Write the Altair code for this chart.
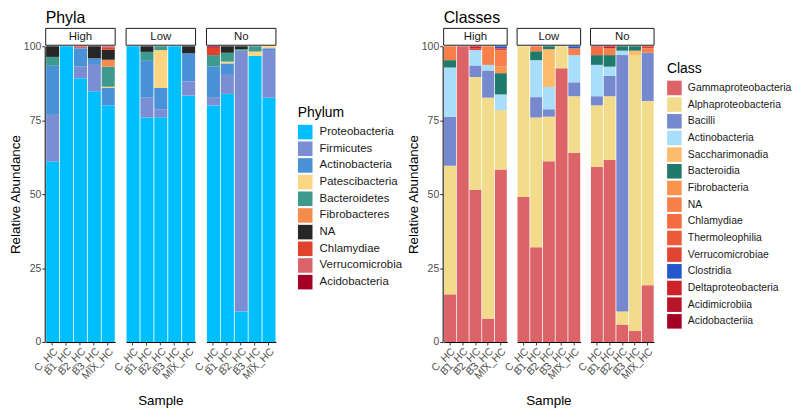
import altair as alt
import pandas as pd

FONT = "Liberation Sans"

samples = ["C_HC", "B1_HC", "B2_HC", "B3_HC", "MIX_HC"]
levels = ["High", "Low", "No"]

# ---------------- Phyla ----------------
phyla = ["Proteobacteria", "Firmicutes", "Actinobacteria", "Patescibacteria",
         "Bacteroidetes", "Fibrobacteres", "NA", "Chlamydiae",
         "Verrucomicrobia", "Acidobacteria"]
phyla_colors = ["#00BFFF", "#7B8ED3", "#4A92D8", "#FCD583", "#3E9A8C",
                "#F68B4E", "#262626", "#E0422C", "#D9646B", "#A50026"]
# order of values: High C,B1,B2,B3,MIX | Low C,B1,B2,B3,MIX | No C,B1,B2,B3,MIX
p_proteobacteria = [61.0, 100, 89.2, 84.8, 80.0, 100, 75.9, 76.0, 100, 83.3, 80.0, 83.9, 10.3, 96.7, 82.6]
p_firmicutes = [15.8, 0, 3.9, 9.2, 0, 0, 6.7, 2.7, 0, 4.8, 2.8, 6.4, 88.2, 0, 16.1]
p_actinobacteria = [16.6, 0, 6.2, 1.9, 5.9, 0, 12.7, 7.2, 0, 9.5, 10.3, 3.9, 0, 0, 0.6]
p_patescibacteria = [0, 0, 0, 0, 0.4, 0, 0, 12.8, 0, 0, 0, 0.6, 0, 1.5, 0.7]
p_bacteroidetes = [3.0, 0, 0, 0, 6.8, 0, 2.8, 1.3, 0, 0, 3.9, 3.0, 0.5, 1.8, 0]
p_fibrobacteres = [0, 0, 0, 0, 2.3, 0, 0, 0, 0, 0, 0, 0, 0, 0, 0]
p_na = [3.6, 0, 0, 4.1, 3.4, 0, 1.9, 0, 0, 2.4, 0, 2.2, 1.0, 0, 0]
p_chlamydiae = [0, 0, 0, 0, 0.6, 0, 0, 0, 0, 0, 2.5, 0, 0, 0, 0]
p_verrucomicrobia = [0, 0, 0.7, 0, 0.6, 0, 0, 0, 0, 0, 0, 0, 0, 0, 0]
p_acidobacteria = [0, 0, 0, 0, 0, 0, 0, 0, 0, 0, 0.5, 0, 0, 0, 0]
phyla_series = [p_proteobacteria, p_firmicutes, p_actinobacteria, p_patescibacteria,
                p_bacteroidetes, p_fibrobacteres, p_na, p_chlamydiae,
                p_verrucomicrobia, p_acidobacteria]

# ---------------- Classes ----------------
classes = ["Gammaproteobacteria", "Alphaproteobacteria", "Bacilli", "Actinobacteria",
           "Saccharimonadia", "Bacteroidia", "Fibrobacteria", "NA", "Chlamydiae",
           "Thermoleophilia", "Verrucomicrobiae", "Clostridia", "Deltaproteobacteria",
           "Acidimicrobiia", "Acidobacteriia"]
class_colors = ["#DC6368", "#F2DC8C", "#7689CF", "#A9DEFA", "#FDBB6C", "#1F7A6B",
                "#F9944F", "#F7804A", "#F46C40", "#EC5A38", "#E04533", "#2456CC",
                "#CB222B", "#B8142A", "#A50026"]
c_gamma = [16.1, 100, 51.5, 7.9, 58.3, 49.0, 32.0, 61.1, 92.6, 64.0, 59.2, 61.5, 5.9, 3.7, 19.2]
c_alpha = [43.5, 0, 38.1, 74.7, 20.1, 51.0, 43.9, 15.1, 7.4, 19.1, 20.8, 21.6, 4.4, 93.3, 62.3]
c_bacilli = [16.5, 0, 3.9, 9.2, 0, 0, 6.9, 2.5, 0, 4.7, 3.1, 6.9, 86.7, 0, 16.3]
c_actino = [16.7, 0, 5.2, 1.9, 5.3, 0, 12.5, 7.5, 0, 9.2, 10.6, 3.1, 1.5, 0, 0]
c_sacchari = [0, 0, 0, 0, 0, 0, 0, 12.8, 0, 0, 0, 0, 0, 1.5, 0]
c_bacteroidia = [2.5, 0, 0, 0, 7.2, 0, 3.0, 1.0, 0, 0, 3.3, 3.9, 1.5, 1.5, 0]
c_fibro = [0, 0, 0, 0, 2.2, 0, 0, 0, 0, 0, 0, 0, 0, 0, 0]
c_na = [4.7, 0, 0, 6.3, 5.6, 0, 1.7, 0, 0, 2.3, 0, 2.3, 0, 0, 1.5]
c_chlamydiae = [0, 0, 0, 0, 0, 0, 0, 0, 0, 0, 2.5, 0, 0, 0, 0]
c_thermo = [0, 0, 0, 0, 0, 0, 0, 0, 0, 0, 0, 0, 0, 0, 0]
c_verruco = [0, 0, 0.5, 0, 0.6, 0, 0, 0, 0, 0, 0.5, 0, 0, 0, 0.7]
c_clostridia = [0, 0, 0, 0, 0.7, 0, 0, 0, 0, 0.7, 0, 0, 0, 0, 0]
c_delta = [0, 0, 0.8, 0, 0, 0, 0, 0, 0, 0, 0, 0.7, 0, 0, 0]
c_acidimicro = [0, 0, 0, 0, 0, 0, 0, 0, 0, 0, 0, 0, 0, 0, 0]
c_acidobact = [0, 0, 0, 0, 0, 0, 0, 0, 0, 0, 0, 0, 0, 0, 0]
class_series = [c_gamma, c_alpha, c_bacilli, c_actino, c_sacchari, c_bacteroidia,
                c_fibro, c_na, c_chlamydiae, c_thermo, c_verruco, c_clostridia,
                c_delta, c_acidimicro, c_acidobact]

PLOT_H = 298


def build_df(categories, series, field):
    rows = []
    for ci, (cat, vals) in enumerate(zip(categories, series)):
        for k, v in enumerate(vals):
            if v > 0:
                rows.append({"Level": levels[k // 5], "Sample": samples[k % 5],
                             field: cat, "ord": ci, "Abundance": v})
    return pd.DataFrame(rows)


def make_chart(df, field, legend_title, categories, colors, title, cell_w,
               spacing, legend_x, legend_y, legend_font, label_offset):
    bars = alt.Chart().mark_bar().encode(
        x=alt.X("Sample:N", sort=samples,
                scale=alt.Scale(paddingInner=0.06, paddingOuter=0.03),
                axis=alt.Axis(title=None, labelAngle=-45)),
        y=alt.Y("Abundance:Q", stack="zero",
                scale=alt.Scale(domain=[0, 100], nice=False),
                axis=alt.Axis(values=[0, 25, 50, 75, 100], title="Relative Abundance")),
        color=alt.Color(f"{field}:N", sort=categories,
                        scale=alt.Scale(domain=categories, range=colors),
                        legend=alt.Legend(title=legend_title, orient="none",
                                          legendX=legend_x, legendY=legend_y,
                                          symbolType="square", symbolSize=215,
                                          symbolStrokeWidth=0, rowPadding=1.8,
                                          labelOffset=label_offset,
                                          labelFontSize=legend_font, titleFontSize=14,
                                          titleFontWeight="normal", labelFont=FONT,
                                          titleFont=FONT, labelColor="#1A1A1A",
                                          titleColor="#000000", titlePadding=5)),
        order=alt.Order("ord:Q", sort="ascending"),
    )
    strip = alt.Chart().mark_rect(fill="white", stroke="#1A1A1A", strokeWidth=1).encode(
        x=alt.value(0), x2=alt.value(cell_w), y=alt.value(-18), y2=alt.value(-1)
    ).transform_aggregate(n="count()", groupby=["Level"])
    label = alt.Chart().mark_text(fontSize=11.5, color="#1A1A1A", font=FONT,
                                  baseline="middle").encode(
        x=alt.value(cell_w / 2), y=alt.value(-9.5), text="Level:N"
    ).transform_aggregate(n="count()", groupby=["Level"])
    layered = alt.layer(bars, strip, label, data=df).properties(width=cell_w, height=PLOT_H)
    return layered.facet(
        column=alt.Column("Level:N", sort=levels,
                          header=alt.Header(labels=False, title="Sample",
                                            titleOrient="bottom", titleFontSize=13.5,
                                            titleFontWeight="normal", titleFont=FONT,
                                            titleColor="#000000", titlePadding=2)),
        spacing=spacing,
    ).properties(title=alt.TitleParams(title, anchor="start", frame="group",
                                       fontSize=16, fontWeight="normal", font=FONT,
                                       color="#000000", offset=2))


phyla_df = build_df(phyla, phyla_series, "Phylum")
class_df = build_df(classes, class_series, "Class")

left = make_chart(phyla_df, "Phylum", "Phylum", phyla, phyla_colors, "Phyla",
                  70, 9, 254, 60, 11.5, 7)
right = make_chart(class_df, "Class", "Class", classes, class_colors, "Classes",
                   64, 8, 225, 15.5, 10.5, 6)

chart = alt.hconcat(left, right, spacing=3).resolve_scale(color="independent").properties(
    padding=0, background="white"
).configure_view(stroke=None).configure_axis(
    labelFont=FONT, titleFont=FONT, labelColor="#4D4D4D", labelFontSize=10.5,
    titleFontSize=13.5, titleFontWeight="normal", titleColor="#000000",
    domainColor="#000000", domainWidth=1, tickColor="#333333", tickSize=3,
    labelPadding=1, titlePadding=1, grid=False
)

chart.save("out.html", embed_options={"renderer": "svg", "actions": False})
